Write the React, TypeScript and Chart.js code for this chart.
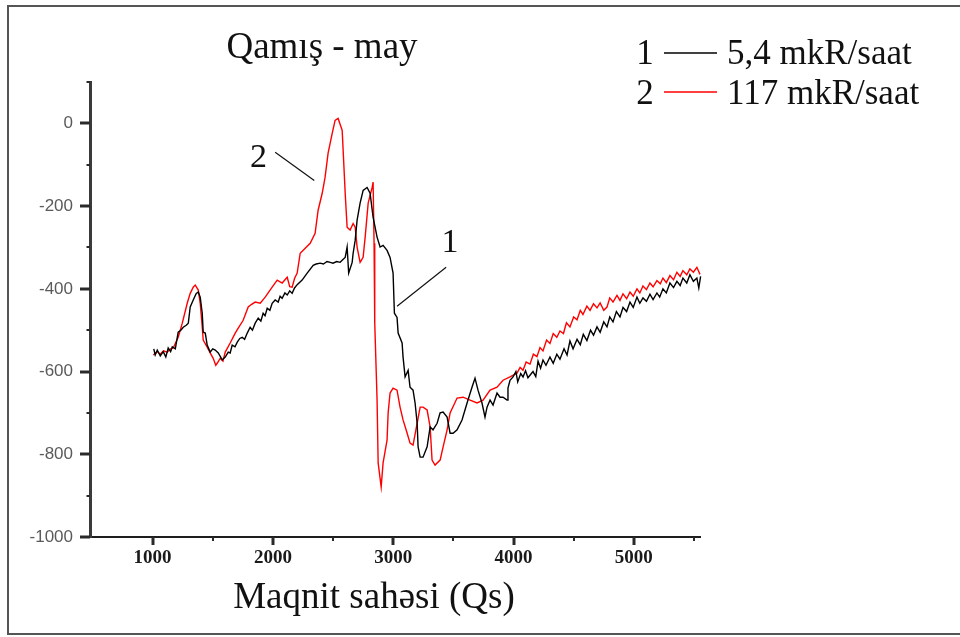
import { useEffect, useRef } from "react";
import { Chart, registerables } from "chart.js";

Chart.register(...registerables);

const SERIF = '"Liberation Serif", "Times New Roman", serif';
const SANS = '"Liberation Sans", Arial, sans-serif';

// ---- data ----
const chartTitle = "Qamış - may";
const xAxisTitle = "Maqnit sahəsi (Qs)";
const seriesIds = ["1", "2"];
const seriesNames = ["5,4 mkR/saat", "117 mkR/saat"];
const seriesColors = ["#000000", "#ff0000"];

const xMajorTicks = [1000, 2000, 3000, 4000, 5000];
const xMinorTicks = [1500, 2500, 3500, 4500, 5500];
const yMajorTicks = [-1000, -800, -600, -400, -200, 0];
const yMinorTicks = [-900, -700, -500, -300, -100, 100];

// series 1 (5,4 mkR/saat)
const field1 = [
  1010, 1022, 1039, 1064, 1089, 1110, 1130, 1150, 1164, 1189, 1213, 1235, 1255, 1280, 1297, 1313, 1338, 1363, 1380, 1396,
  1413, 1421, 1438, 1454, 1479, 1500, 1521, 1546, 1579, 1604, 1629, 1645, 1662, 1685, 1704, 1725, 1745, 1765, 1787, 1811,
  1830, 1853, 1878, 1900, 1919, 1935, 1953, 1975, 1994, 2019, 2044, 2060, 2077, 2100, 2119, 2140, 2160, 2180, 2202, 2243,
  2285, 2335, 2360, 2393, 2420, 2450, 2476, 2500, 2530, 2559, 2580, 2601, 2617, 2630, 2659, 2667, 2684, 2700, 2725, 2750,
  2783, 2808, 2833, 2866, 2891, 2916, 2949, 2974, 2999, 3010, 3032, 3041, 3074, 3082, 3099, 3124, 3140, 3165, 3182, 3199,
  3207, 3224, 3248, 3282, 3307, 3331, 3365, 3390, 3415, 3448, 3473, 3498, 3531, 3572, 3614, 3655, 3680, 3705, 3738, 3763,
  3780, 3805, 3830, 3863, 3888, 3913, 3946, 3954, 3971, 3996, 4020, 4035, 4060, 4079, 4100, 4120, 4162, 4185, 4204, 4225,
  4245, 4270, 4303, 4330, 4360, 4386, 4420, 4445, 4469, 4495, 4528, 4555, 4580, 4610, 4640, 4665, 4694, 4720, 4750, 4777,
  4800, 4827, 4855, 4885, 4910, 4940, 4968, 4995, 5026, 5050, 5076, 5105, 5134, 5160, 5192, 5215, 5242, 5270, 5300, 5330,
  5358, 5385, 5408, 5440, 5466, 5495, 5524, 5540, 5555, 5574,
];
const signal1 = [
  -545, -560, -548, -562, -552, -565, -543, -552, -540, -545, -505, -500, -493, -488, -483, -444, -427, -411, -408, -420,
  -459, -505, -507, -536, -553, -545, -548, -555, -572, -565, -553, -555, -536, -540, -529, -520, -517, -522, -507, -493,
  -500, -483, -471, -478, -459, -465, -447, -452, -435, -427, -432, -418, -423, -410, -415, -405, -411, -398, -390, -379,
  -362, -343, -340, -338, -340, -334, -336, -338, -334, -336, -330, -324, -299, -362, -336, -314, -283, -234, -193, -162,
  -155, -169, -227, -275, -299, -295, -307, -324, -362, -459, -469, -507, -531, -565, -613, -597, -638, -645, -676, -725,
  -782, -807, -807, -782, -734, -741, -725, -700, -698, -710, -749, -749, -741, -717, -676, -638, -616, -645, -676, -710,
  -686, -669, -681, -652, -662, -662, -669, -640, -621, -613, -600, -625, -605, -613, -598, -615, -600, -612, -575, -592,
  -572, -585, -565, -580, -558, -570, -545, -560, -526, -545, -522, -535, -510, -525, -500, -512, -492, -505, -480, -492,
  -468, -480, -455, -468, -445, -455, -432, -445, -420, -435, -422, -430, -413, -426, -410, -420, -400, -410, -386, -397,
  -382, -392, -374, -386, -366, -382, -374, -398, -370, -392,
];

// series 2 (117 mkR/saat)
const field2 = [
  1006, 1040, 1064, 1090, 1122, 1150, 1172, 1213, 1247, 1288, 1313, 1338, 1355, 1380, 1396, 1413, 1421, 1454, 1479, 1504,
  1525, 1537, 1562, 1585, 1604, 1645, 1687, 1712, 1753, 1795, 1820, 1853, 1895, 1936, 1994, 2036, 2077, 2119, 2140, 2160,
  2180, 2202, 2227, 2252, 2310, 2351, 2376, 2410, 2434, 2459, 2493, 2517, 2542, 2576, 2584, 2601, 2617, 2642, 2667, 2684,
  2700, 2725, 2750, 2767, 2792, 2825, 2833, 2841, 2845, 2848, 2866, 2875, 2900, 2916, 2949, 2958, 2974, 2999, 3032, 3057,
  3082, 3116, 3140, 3165, 3199, 3224, 3248, 3282, 3307, 3323, 3348, 3390, 3415, 3448, 3473, 3531, 3581, 3639, 3697, 3747,
  3805, 3863, 3913, 3971, 4029, 4055, 4079, 4105, 4137, 4165, 4195, 4220, 4245, 4275, 4303, 4330, 4360, 4386, 4415, 4440,
  4469, 4500, 4528, 4555, 4577, 4610, 4636, 4665, 4694, 4720, 4750, 4777, 4800, 4827, 4860, 4885, 4910, 4940, 4968, 4995,
  5026, 5050, 5076, 5105, 5134, 5160, 5192, 5220, 5242, 5270, 5300, 5330, 5358, 5385, 5408, 5440, 5466, 5495, 5524, 5550,
  5574,
];
const signal2 = [
  -560, -552, -558, -550, -553, -545, -543, -517, -483, -435, -411, -396, -391, -403, -435, -493, -524, -541, -555, -568,
  -585, -580, -568, -575, -553, -531, -507, -495, -476, -444, -438, -432, -435, -420, -396, -379, -386, -372, -395, -396,
  -375, -362, -314, -307, -290, -266, -210, -169, -130, -72, -24, 7, 12, -17, -65, -169, -251, -258, -242, -251,
  -299, -336, -324, -275, -193, -155, -142, -290, -452, -481, -669, -821, -879, -821, -766, -700, -652, -640, -645, -686,
  -717, -749, -773, -778, -725, -686, -686, -693, -734, -814, -826, -814, -782, -741, -700, -664, -662, -669, -676, -669,
  -645, -638, -621, -613, -604, -590, -597, -577, -582, -558, -564, -542, -550, -524, -532, -508, -517, -502, -508, -482,
  -492, -468, -475, -452, -462, -442, -452, -436, -446, -434, -452, -444, -422, -432, -416, -428, -412, -424, -408, -418,
  -400, -410, -393, -402, -386, -395, -380, -388, -374, -385, -368, -378, -360, -370, -356, -366, -352, -360, -348, -365,
  -355,
];

// annotation numbers with leader lines (data units)
const annotationText = ["2", "1"];
const annotationX = [1880, 3473];
const annotationY = [-85, -290];
const leaderFromX = [2019, 3440];
const leaderFromY = [-70, -348];
const leaderToX = [2344, 3032];
const leaderToY = [-138, -442];

const decor = {
  id: "decor",
  afterDraw(chart: any) {
    const { ctx, chartArea, scales } = chart;
    const xs = scales.x;
    const ys = scales.y;
    ctx.save();

    // axis ticks
    ctx.strokeStyle = "#2a2a2a";
    ctx.lineCap = "butt";
    const left = chartArea.left;
    const bottom = chartArea.bottom;
    yMajorTicks.forEach((v) => {
      const p = Math.round(ys.getPixelForValue(v));
      ctx.lineWidth = 3;
      ctx.beginPath();
      ctx.moveTo(left - 10, p);
      ctx.lineTo(left, p);
      ctx.stroke();
    });
    yMinorTicks.forEach((v) => {
      const p = Math.round(ys.getPixelForValue(v));
      ctx.lineWidth = 2;
      ctx.beginPath();
      ctx.moveTo(left - 3.5, p);
      ctx.lineTo(left, p);
      ctx.stroke();
    });
    xMajorTicks.forEach((v) => {
      const p = Math.round(xs.getPixelForValue(v));
      ctx.lineWidth = 3;
      ctx.beginPath();
      ctx.moveTo(p, bottom);
      ctx.lineTo(p, bottom + 8);
      ctx.stroke();
    });
    xMinorTicks.forEach((v) => {
      const p = Math.round(xs.getPixelForValue(v));
      ctx.lineWidth = 2;
      ctx.beginPath();
      ctx.moveTo(p, bottom);
      ctx.lineTo(p, bottom + 4);
      ctx.stroke();
    });

    // annotations
    ctx.strokeStyle = "#111";
    ctx.lineWidth = 1.2;
    annotationText.forEach((t, i) => {
      ctx.beginPath();
      ctx.moveTo(xs.getPixelForValue(leaderFromX[i]), ys.getPixelForValue(leaderFromY[i]));
      ctx.lineTo(xs.getPixelForValue(leaderToX[i]), ys.getPixelForValue(leaderToY[i]));
      ctx.stroke();
      ctx.fillStyle = "#111";
      ctx.font = `34px ${SERIF}`;
      ctx.textAlign = "center";
      ctx.textBaseline = "middle";
      ctx.fillText(t, xs.getPixelForValue(annotationX[i]), ys.getPixelForValue(annotationY[i]));
    });

    // title
    ctx.fillStyle = "#111";
    ctx.textBaseline = "alphabetic";
    ctx.textAlign = "center";
    ctx.font = `37px ${SERIF}`;
    ctx.fillText(chartTitle, 322, 58);

    // x axis title
    ctx.font = `37px ${SERIF}`;
    ctx.fillText(xAxisTitle, 374, 608);

    // legend
    const lineY = [53, 92];
    const baseY = [64, 104];
    seriesIds.forEach((id, i) => {
      ctx.font = `35px ${SERIF}`;
      ctx.textAlign = "center";
      ctx.fillStyle = "#111";
      ctx.fillText(id, 645, baseY[i]);
      ctx.strokeStyle = seriesColors[i];
      ctx.lineWidth = 1.5;
      ctx.beginPath();
      ctx.moveTo(664, lineY[i]);
      ctx.lineTo(717, lineY[i]);
      ctx.stroke();
      ctx.textAlign = "left";
      ctx.fillText(seriesNames[i], 727, baseY[i]);
    });

    // outer frame
    ctx.strokeStyle = "#555";
    ctx.lineWidth = 2;
    ctx.strokeRect(8, 6, 960, 628);

    ctx.restore();
  },
};

export default function App() {
  const ref = useRef<HTMLCanvasElement>(null);

  useEffect(() => {
    if (!ref.current) return;
    const chart = new Chart(ref.current, {
      type: "line",
      data: {
        datasets: [
          {
            label: seriesNames[0],
            data: field1.map((x, i) => ({ x, y: signal1[i] })),
            borderColor: seriesColors[0],
            borderWidth: 1.4,
            pointRadius: 0,
            tension: 0,
            fill: false,
            clip: 8,
          },
          {
            label: seriesNames[1],
            data: field2.map((x, i) => ({ x, y: signal2[i] })),
            borderColor: seriesColors[1],
            borderWidth: 1.4,
            pointRadius: 0,
            tension: 0,
            fill: false,
            clip: 8,
          },
        ],
      },
      options: {
        responsive: false,
        animation: false,
        layout: { padding: { left: 0, top: 82, right: 260, bottom: 0 } },
        plugins: {
          legend: { display: false },
          tooltip: { enabled: false },
          title: { display: false },
        },
        scales: {
          x: {
            type: "linear",
            min: 480,
            max: 5550,
            afterBuildTicks: (s: any) => {
              s.ticks = xMajorTicks.map((v) => ({ value: v }));
            },
            afterFit: (s: any) => {
              s.height = 100;
            },
            grid: { display: false, drawTicks: false },
            border: { display: true, color: "#1e1e1e", width: 2 },
            ticks: {
              padding: 10,
              color: "#1a1a1a",
              font: { family: SERIF, size: 19, weight: "bold" },
              maxRotation: 0,
              minRotation: 0,
              autoSkip: false,
              callback: (v: any) => String(v),
            },
          },
          y: {
            type: "linear",
            min: -1000,
            max: 100,
            afterBuildTicks: (s: any) => {
              s.ticks = yMajorTicks.map((v) => ({ value: v }));
            },
            afterFit: (s: any) => {
              s.width = 90;
            },
            grid: { display: false, drawTicks: false },
            border: { display: true, color: "#3a3a3a", width: 3 },
            ticks: {
              padding: 17,
              color: "#5a5a5a",
              font: { family: SANS, size: 17 },
              autoSkip: false,
              callback: (v: any) => String(v),
            },
          },
        },
      },
      plugins: [decor],
    });
    return () => chart.destroy();
  }, []);

  return (
    <div style={{ position: "absolute", left: 0, top: 0, width: 960, height: 637, background: "#fff" }}>
      <canvas ref={ref} width={960} height={637} style={{ display: "block" }} />
    </div>
  );
}
